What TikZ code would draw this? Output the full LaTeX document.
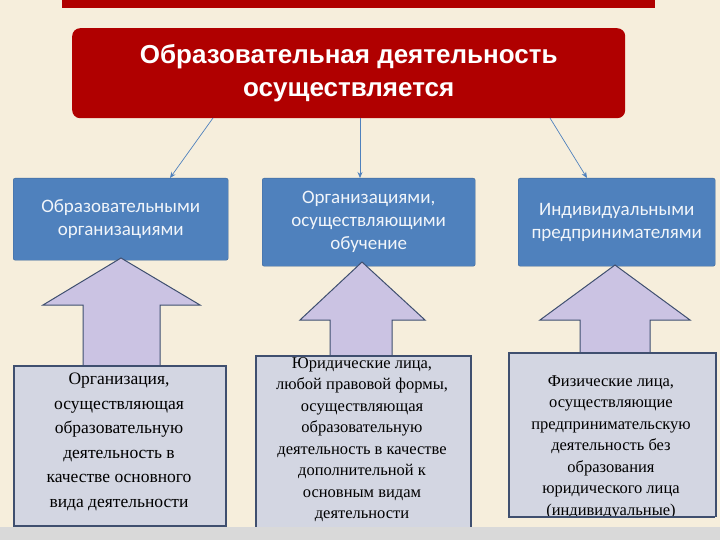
\documentclass[tikz,border=0pt]{standalone}
\usepackage{fontspec}
\setmainfont{Liberation Serif}
\newfontfamily\hdr{Liberation Sans}
\newfontfamily\blu{Carlito}
\usetikzlibrary{arrows.meta}
\definecolor{bg}{HTML}{F6EEDC}
\definecolor{redb}{HTML}{B00000}
\definecolor{blueb}{HTML}{4F81BD}
\definecolor{lav}{HTML}{CBC3E3}
\definecolor{bot}{HTML}{D3D6E2}
\definecolor{edge}{HTML}{3F4F6F}
\tikzset{
 bluebox/.style={fill=blueb,draw=blueb!80!black,rounded corners=2pt,text=white!92!blueb,font=\blu\fontsize{19}{23}\selectfont,align=center,anchor=north west,inner sep=2pt},
 botbox/.style={fill=bot,draw=edge,line width=1.5pt,anchor=north west,inner sep=0pt},
 bottext/.style={align=center,anchor=north,inner sep=0pt,font=\fontsize{16.5}{21.5}\selectfont},
 bigarrow/.style={fill=lav,draw=edge,line width=1pt},
 con/.style={draw=blueb,-{Stealth[length=6pt,width=5pt]},line width=0.7pt}
}
\begin{document}
\begin{tikzpicture}[x=1pt,y=-1pt]
\useasboundingbox (0,0) rectangle (720,540);
\fill[bg] (0,0) rectangle (720,540);
\fill[black!15] (0,527) rectangle (720,540);
\fill[redb] (62,0) rectangle (655,8);
\node[fill=redb,rounded corners=8pt,minimum width=553pt,minimum height=90pt,anchor=north west,text=white,font=\hdr\bfseries\fontsize{26}{33}\selectfont,align=center] (main) at (72,28) {Образовательная деятельность\\осуществляется};
\node[bluebox,text width=211pt,minimum height=82pt] (b1) at (13,178) {Образовательными\\организациями};
\node[bluebox,text width=209pt,minimum height=88pt] (b2) at (262,178) {Организациями,\\осуществляющими\\обучение};
\node[bluebox,text width=193pt,minimum height=88pt] (b3) at (518,178) {Индивидуальными\\предпринимателями};
\coordinate (s1) at (213,118); \coordinate (s2) at (360,118); \coordinate (s3) at (550,118);
\draw[con] (s1) -- (170,178);
\draw[con] (s2) -- (360,178);
\draw[con] (s3) -- (587,178);
\draw[bigarrow] (121,258) -- (200,305) -- (160,305) -- (160,368) -- (83,368) -- (83,305) -- (43,305) -- cycle;
\draw[bigarrow] (362,262) -- (425,320) -- (392,320) -- (392,358) -- (330,358) -- (330,320) -- (300,320) -- cycle;
\draw[bigarrow] (615,265) -- (690,320) -- (650,320) -- (650,355) -- (580,355) -- (580,320) -- (540,320) -- cycle;
\node[botbox,minimum width=212pt,minimum height=160pt] (c1) at (13,365) {};
\node[bottext,font=\fontsize{17.5}{24.5}\selectfont] (t1) at (119,373) {Организация,\\осуществляющая\\образовательную\\деятельность в\\качестве основного\\вида деятельности};
\begin{scope}
\clip (250,350) rectangle (480,526);
\node[botbox,minimum width=215pt,minimum height=172pt] (c2) at (255,355) {};
\node[bottext] (t2) at (362,357) {Юридические лица,\\любой правовой формы,\\осуществляющая\\образовательную\\деятельность в качестве\\дополнительной к\\основным видам\\деятельности};
\end{scope}
\begin{scope}
\clip (500,345) rectangle (720,516);
\node[botbox,minimum width=207pt,minimum height=166pt] (c3) at (508,352) {};
\node[bottext] (t3) at (611,375) {Физические лица,\\осуществляющие\\предпринимательскую\\деятельность без\\образования\\юридического лица\\(индивидуальные)};
\end{scope}
\draw[edge,line width=1.5pt] (508,517) -- (715,517);
\end{tikzpicture}
\end{document}
